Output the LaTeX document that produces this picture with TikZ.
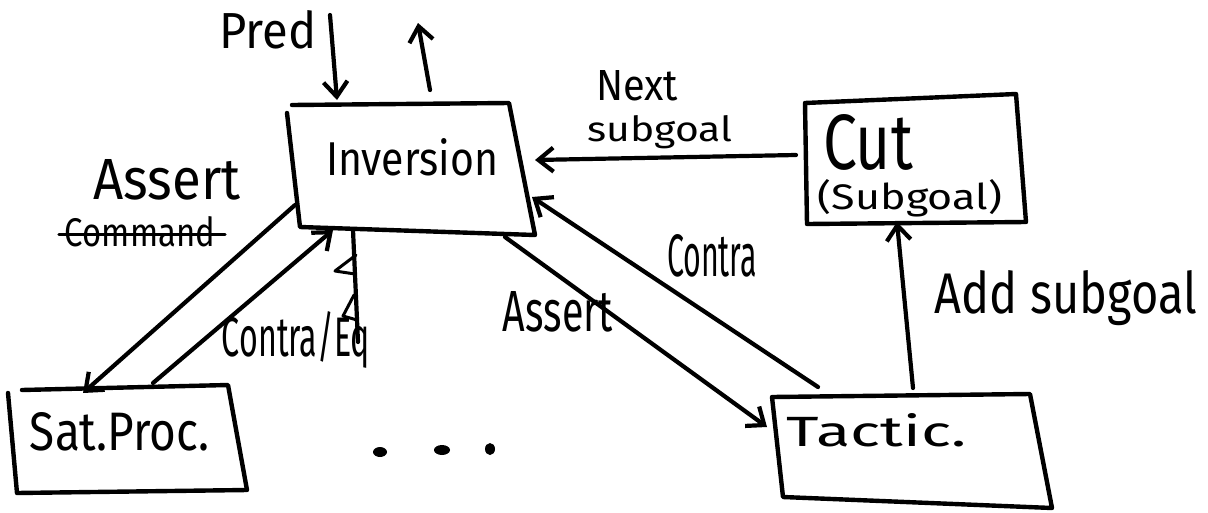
\documentclass[tikz,border=0pt]{standalone}
\usepackage{fontspec}
\setmainfont{Fira Sans}
\usetikzlibrary{arrows.meta,calc}
\newcommand{\hw}[3]{\resizebox{#1pt}{#2pt}{\fontsize{20}{24}\selectfont #3}}
\begin{document}
\begin{tikzpicture}[x=1pt,y=-1pt, line width=4.2pt, line cap=round, line join=round,
  hand/.style={-{Straight Barb[length=15pt,width=24pt,line width=4.2pt]}},
  lbl/.style={inner sep=0pt, anchor=center},
  boxline/.style={line width=4.4pt}]
\useasboundingbox[fill=white] (0,0) rectangle (1208,512);

% boxes
\draw[boxline] (292,105) -- (509,103) -- (535,235) -- (300,227) -- (287,113);
\draw[boxline] (805,103) -- (1016,94) -- (1026,222) -- (807,224) -- cycle;
\draw[boxline] (772,397) -- (1030,394) -- (1052,508) -- (783,497) -- cycle;
\draw[boxline] (22,390) -- (228,385) -- (247,490) -- (17,493) -- (8,393);

% box texts
\node[lbl] (inv) at (412,157) {\hw{172}{37}{Inversion}};
\node[lbl] (cut) at (868,142) {\hw{90}{55}{Cut}};
\node[lbl] (subgl) at (910,198) {\hw{184}{30}{(Subgoal)}};
\node[lbl] (tac) at (877,430) {\hw{180}{33}{Tactic.}};
\node[lbl] (sat) at (120,432) {\hw{180}{38}{Sat.Proc.}};

% labels
\node[lbl] (pred) at (268,30) {\hw{97}{38}{Pred}};
\node[lbl] (assertL) at (167,180) {\hw{147}{40}{Assert}};
\node[lbl] (cmd) at (140,232) {\hw{150}{30}{Command}};
\draw[line width=3pt] ($(cmd.west)+(-4,2)$) -- ($(cmd.east)+(8,2)$);
\node[lbl] (nxt) at (637,86) {\hw{82}{30}{Next}};
\node[lbl] (subg) at (660,132) {\hw{145}{26}{subgoal}};
\node[lbl] (contra) at (712,256) {\hw{90}{42}{Contra}};
\node[lbl] (assertM) at (558,312) {\hw{110}{40}{Assert}};
\node[lbl] (add) at (1066,298) {\hw{262}{43}{Add subgoal}};
\node[lbl] (ce) at (296,340) {\hw{148}{45}{Contra/Eq}};

% dots
\fill (380,452) ellipse (7pt and 5pt);
\fill (442,450) ellipse (8pt and 5pt);
\fill (490,449) ellipse (5pt and 6pt);

% connector end points
\coordinate (predT) at (330,15);
\coordinate (predH) at (337,100);
\coordinate (upT) at (430,90);
\coordinate (upH) at (418,23);
\coordinate (invL) at (295,205);
\coordinate (satTop) at (83,393);
\coordinate (satR) at (153,383);
\coordinate (invB) at (333,230);
\coordinate (invBR) at (505,237);
\coordinate (tacL) at (767,427);
\coordinate (tacT) at (818,387);
\coordinate (invR) at (532,197);
\coordinate (cutL) at (796,155);
\coordinate (invR2) at (535,160);
\coordinate (tacT2) at (913,388);
\coordinate (cutB) at (897,222);
\coordinate (vT) at (353,230);
\coordinate (vB) at (358,342);

% connectors
\draw[hand] (predT) -- (predH);
\draw[hand] (upT) -- (upH);
\draw[hand] (invL) -- (satTop);
\draw[hand] (satR) -- (invB);
\draw[hand] (invBR) -- (tacL);
\draw[hand] (tacT) -- (invR);
\draw[hand] (cutL) -- (invR2);
\draw[hand] (tacT2) -- (cutB);
\draw (vT) -- (vB);
\draw[line width=3pt] (356,255) -- (335,271) -- (355,274);
\draw[line width=3pt] (354,295) -- (343,316) -- (357,320);
\end{tikzpicture}
\end{document}
